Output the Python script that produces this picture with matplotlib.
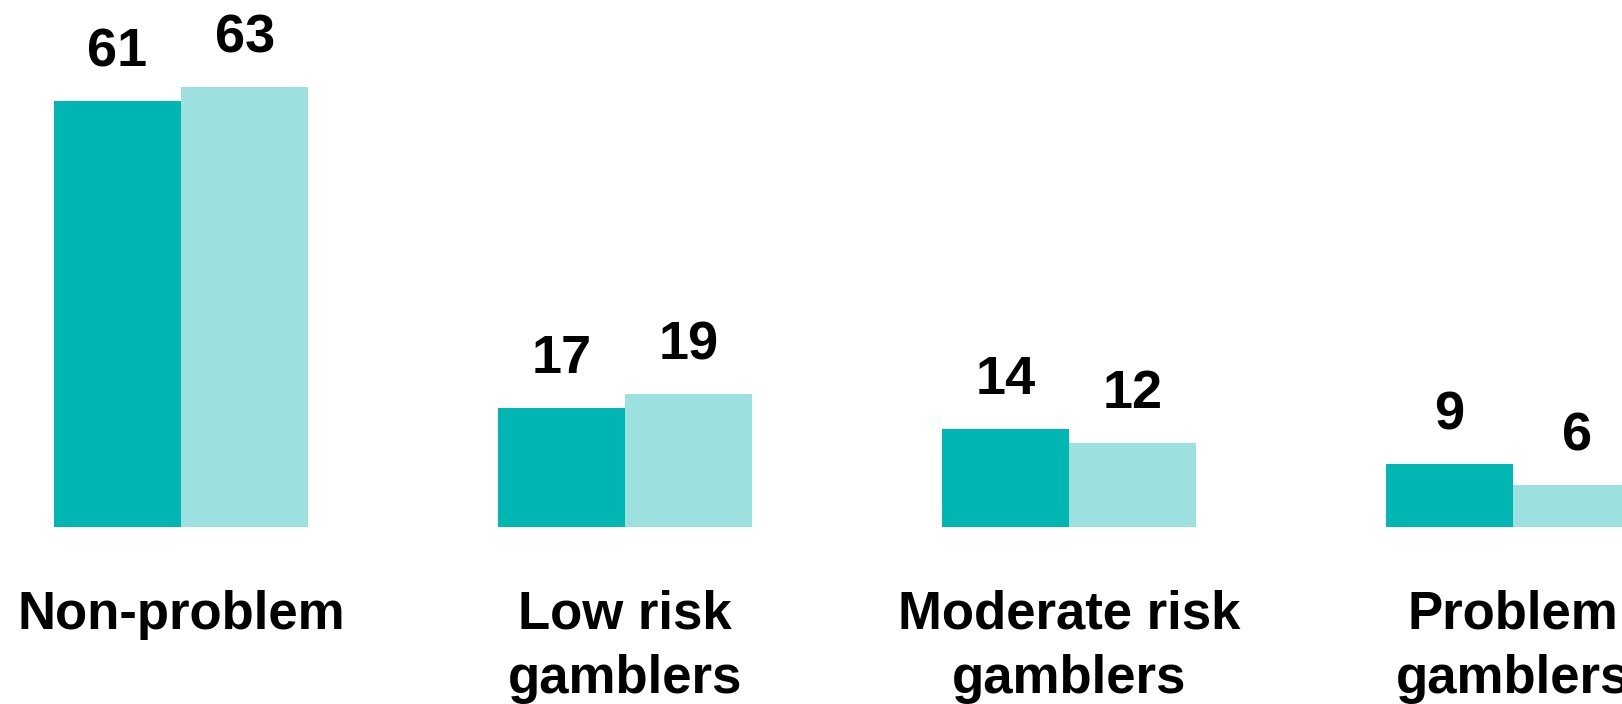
import matplotlib
matplotlib.use("Agg")
import matplotlib.pyplot as plt
import numpy as np

categories = ["Non-problem", "Low risk\ngamblers", "Moderate risk\ngamblers", "Problem\ngamblers"]
series_a = [61, 17, 14, 9]
series_b = [63, 19, 12, 6]

color_a = "#00B6B2"
color_b = "#9CE1E0"

plt.rcParams['font.family'] = ['Liberation Sans', 'DejaVu Sans']

fig = plt.figure(figsize=(16.22, 7.04), dpi=100)
ax = fig.add_axes([0, 0, 1, 1])
x = np.arange(len(categories))
w = 0.287

bars_a = ax.bar(x - w / 2, series_a, width=w, color=color_a, linewidth=0)
bars_b = ax.bar(x + w / 2, series_b, width=w, color=color_b, linewidth=0)

for bars in (bars_a, bars_b):
    for b in bars:
        h = b.get_height()
        ax.annotate(f"{h:g}", (b.get_x() + b.get_width() / 2, h),
                    xytext=(0, 25), textcoords="offset points",
                    ha="center", va="baseline", fontsize=39, fontweight="bold")

for xi, lab in zip(x, categories):
    ax.text(xi, -9.0, lab, ha="center", va="top", fontsize=38,
            fontweight="bold", linespacing=1.36)

ax.set_xlim(-0.4077, 3.2455)
ax.set_ylim(-25.4, 75.46)
ax.axis("off")

fig.savefig("out.png", dpi=100)
